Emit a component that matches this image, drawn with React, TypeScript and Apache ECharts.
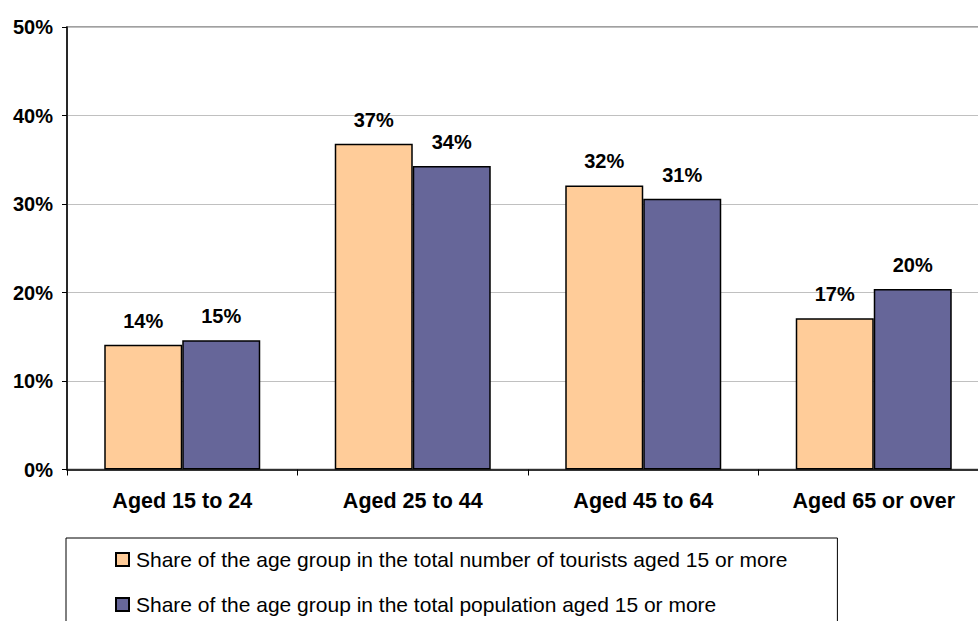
import React, { useEffect, useRef } from "react";
import * as echarts from "echarts";

const categories = ["Aged 15 to 24", "Aged 25 to 44", "Aged 45 to 64", "Aged 65 or over"];
const tourists = [14.1, 36.8, 32.1, 17.1];
const population = [14.6, 34.3, 30.6, 20.4];
const seriesNames = [
  "Share of the age group in the total number of tourists aged 15 or more",
  "Share of the age group in the total population aged 15 or more",
];
const yTicks = [0, 10, 20, 30, 40, 50];

const FONT = "'Liberation Sans', Arial, sans-serif";

export default function App() {
  const ref = useRef<HTMLDivElement>(null);
  useEffect(() => {
    if (!ref.current) return;
    const chart = echarts.init(ref.current, null, { renderer: "svg" });
    const labelCfg = {
      show: true,
      position: "top",
      distance: 14,
      fontFamily: FONT,
      fontWeight: "bold",
      fontSize: 20,
      color: "#000",
      formatter: (p: any) => Math.round(p.value) + "%",
    };
    chart.setOption({
      animation: false,
      backgroundColor: "#fff",
      textStyle: { fontFamily: FONT },
      grid: {
        left: 67,
        right: 11,
        top: 27,
        bottom: 230.5,
        show: true,
        borderColor: "#a0a0a0",
        borderWidth: 2,
      },
      legend: {
        orient: "vertical",
        left: 66,
        top: 538,
        padding: [11, 50, 30, 49],
        itemGap: 24,
        itemWidth: 13,
        itemHeight: 13,
        borderColor: "#000",
        borderWidth: 1,
        backgroundColor: "#fff",
        icon: "rect",
        textStyle: { fontFamily: FONT, fontSize: 21, color: "#000", padding: [0, 0, 0, 2] },
        data: seriesNames,
      },
      xAxis: {
        type: "category",
        data: categories,
        axisLine: { show: true, lineStyle: { color: "#000", width: 1.5 } },
        axisTick: { show: true, alignWithLabel: false, length: 6, lineStyle: { color: "#000" } },
        axisLabel: {
          margin: 20,
          fontFamily: FONT,
          fontWeight: "bold",
          fontSize: 21.5,
          color: "#000",
        },
      },
      yAxis: {
        type: "value",
        min: yTicks[0],
        max: yTicks[yTicks.length - 1],
        interval: 10,
        axisLine: { show: true, lineStyle: { color: "#000", width: 1.5 } },
        axisTick: { show: true, length: 5, lineStyle: { color: "#000" } },
        axisLabel: {
          margin: 14,
          fontFamily: FONT,
          fontWeight: "bold",
          fontSize: 20,
          color: "#000",
          formatter: (v: number) => v + "%",
        },
        splitLine: { show: true, lineStyle: { color: "#c0c0c0", width: 1 } },
      },
      series: [
        {
          name: seriesNames[0],
          type: "bar",
          data: tourists,
          barWidth: 78,
          barGap: "0%",
          itemStyle: { color: "#ffcc99", borderColor: "#000", borderWidth: 1.5 },
          label: labelCfg,
        },
        {
          name: seriesNames[1],
          type: "bar",
          data: population,
          barWidth: 78,
          barGap: "0%",
          itemStyle: { color: "#666699", borderColor: "#000", borderWidth: 1.5 },
          label: labelCfg,
        },
      ],
    });
    return () => chart.dispose();
  }, []);
  return (
    <div
      style={{
        position: "fixed",
        left: 0,
        top: 0,
        width: 978,
        height: 621,
        overflow: "hidden",
        background: "#fff",
      }}
    >
      <div ref={ref} style={{ width: 1000, height: 700 }} />
    </div>
  );
}
